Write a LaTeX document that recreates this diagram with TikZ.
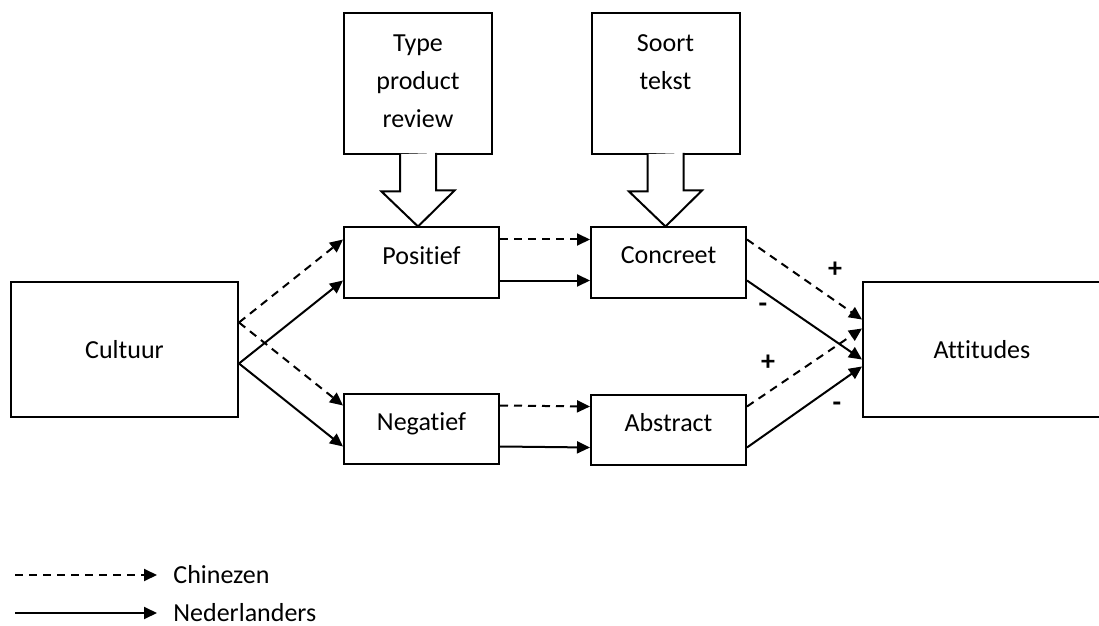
\documentclass[tikz,border=0pt]{standalone}
\usepackage{fontspec}
\setmainfont{Carlito}[Ligatures=NoCommon]
\usetikzlibrary{positioning,arrows.meta,calc}
\newdimen\cvunit
\setlength{\cvunit}{0.5pt}
\tikzstyle{cvboxstyle}=[shape=rectangle,draw,line width=2\cvunit,minimum width=155\cvunit,minimum height=70\cvunit,inner sep=0pt,text depth=7pt]
\tikzstyle{cvtopstyle}=[shape=rectangle,draw,line width=2\cvunit,minimum width=148\cvunit,minimum height=141\cvunit,inner sep=0pt]
\tikzstyle{cvbigstyle}=[shape=rectangle,draw,line width=2\cvunit,minimum height=135\cvunit,inner sep=0pt]
\tikzstyle{chinstyle}=[line width=1pt,dash pattern=on 4pt off 3pt,-{Triangle[length=6.5pt,width=6pt]}]
\tikzstyle{nedstyle}=[line width=1pt,-{Triangle[length=6.5pt,width=6pt]}]
\tikzstyle{signstyle}=[font=\bfseries\fontsize{14pt}{14pt}\selectfont,inner sep=0pt]
\newcommand{\cvlink}[5]{ \draw [style=#1] ($(#2.east)+(0,#3)$) -- ($(#4.west)+(0,#5)$); }
\newcommand{\cvblockarrow}[2]{ \draw [line width=2\cvunit,fill=white] ($(#1.south)+(-18,-1.5)$) -- ++(0,37.5) -- ++(-18.5,0) -- (#1.south |- #2.north) -- ++(36.5,-36) -- ++(-18.5,0) -- ++(0,-37.5); }
\begin{document}
\begin{tikzpicture}[x=\cvunit,y=-\cvunit,font=\fontsize{13pt}{19pt}\selectfont]
\useasboundingbox (0,0) rectangle (1099,626);

\node [style=cvbigstyle,minimum width=227\cvunit] (cult) at (124.5,349.5) {Cultuur}; %
\node [style=cvboxstyle] (pos) at (421.5,262.5) {Positief}; %
\node [style=cvboxstyle] (neg) at (421.5,428.5) {Negatief}; %
\node [style=cvboxstyle] (conc) at (668.5,262.5) {Concreet}; %
\node [style=cvboxstyle] (abstr) at (668.5,429.5) {Abstract}; %
\node [style=cvbigstyle,minimum width=238\cvunit] (att) at (982,349.5) {Attitudes}; %

\node [style=cvtopstyle] (typ) at (418,84) {}; %
\node [anchor=north,align=center,inner sep=0pt] (typtxt) at ($(typ.north)+(0,22)$) {Type\\product\\review}; %
\node [style=cvtopstyle] (srt) at (665.5,84) {}; %
\node [anchor=north,align=center,inner sep=0pt] (srttxt) at ($(srt.north)+(0,22)$) {Soort\\tekst}; %
\cvblockarrow{typ}{pos} %
\cvblockarrow{srt}{conc} %

\cvlink{chinstyle}{cult}{-27}{pos}{-23} %
\cvlink{nedstyle}{cult}{14}{pos}{18} %
\cvlink{chinstyle}{cult}{-27}{neg}{-23} %
\cvlink{nedstyle}{cult}{14}{neg}{18} %
\cvlink{chinstyle}{pos}{-23}{conc}{-23} %
\cvlink{nedstyle}{pos}{18}{conc}{18} %
\cvlink{chinstyle}{neg}{-23}{abstr}{-23} %
\cvlink{nedstyle}{neg}{18}{abstr}{18} %
\cvlink{chinstyle}{conc}{-23}{att}{-30} %
\cvlink{nedstyle}{conc}{18}{att}{10} %
\cvlink{chinstyle}{abstr}{-23}{att}{-21} %
\cvlink{nedstyle}{abstr}{18}{att}{17} %

\node [style=signstyle] (plusa) at (835,270) {+}; %
\node [style=signstyle] (mina) at (763,308) {-}; %
\node [style=signstyle] (plusb) at (768,363) {+}; %
\node [style=signstyle] (minb) at (837,407) {-}; %

% legenda
\coordinate (chbeg) at (15,575); %
\coordinate (chend) at (157,575); %
\draw [style=chinstyle] (chbeg) -- (chend); %
\node [anchor=west,inner sep=0pt] (chlab) at (173,575) {Chinezen}; %
\coordinate (ndbeg) at (15,613); %
\coordinate (ndend) at (157,613); %
\draw [style=nedstyle] (ndbeg) -- (ndend); %
\node [anchor=west,inner sep=0pt] (ndlab) at (173,613) {Nederlanders}; %
\end{tikzpicture}
\end{document}
